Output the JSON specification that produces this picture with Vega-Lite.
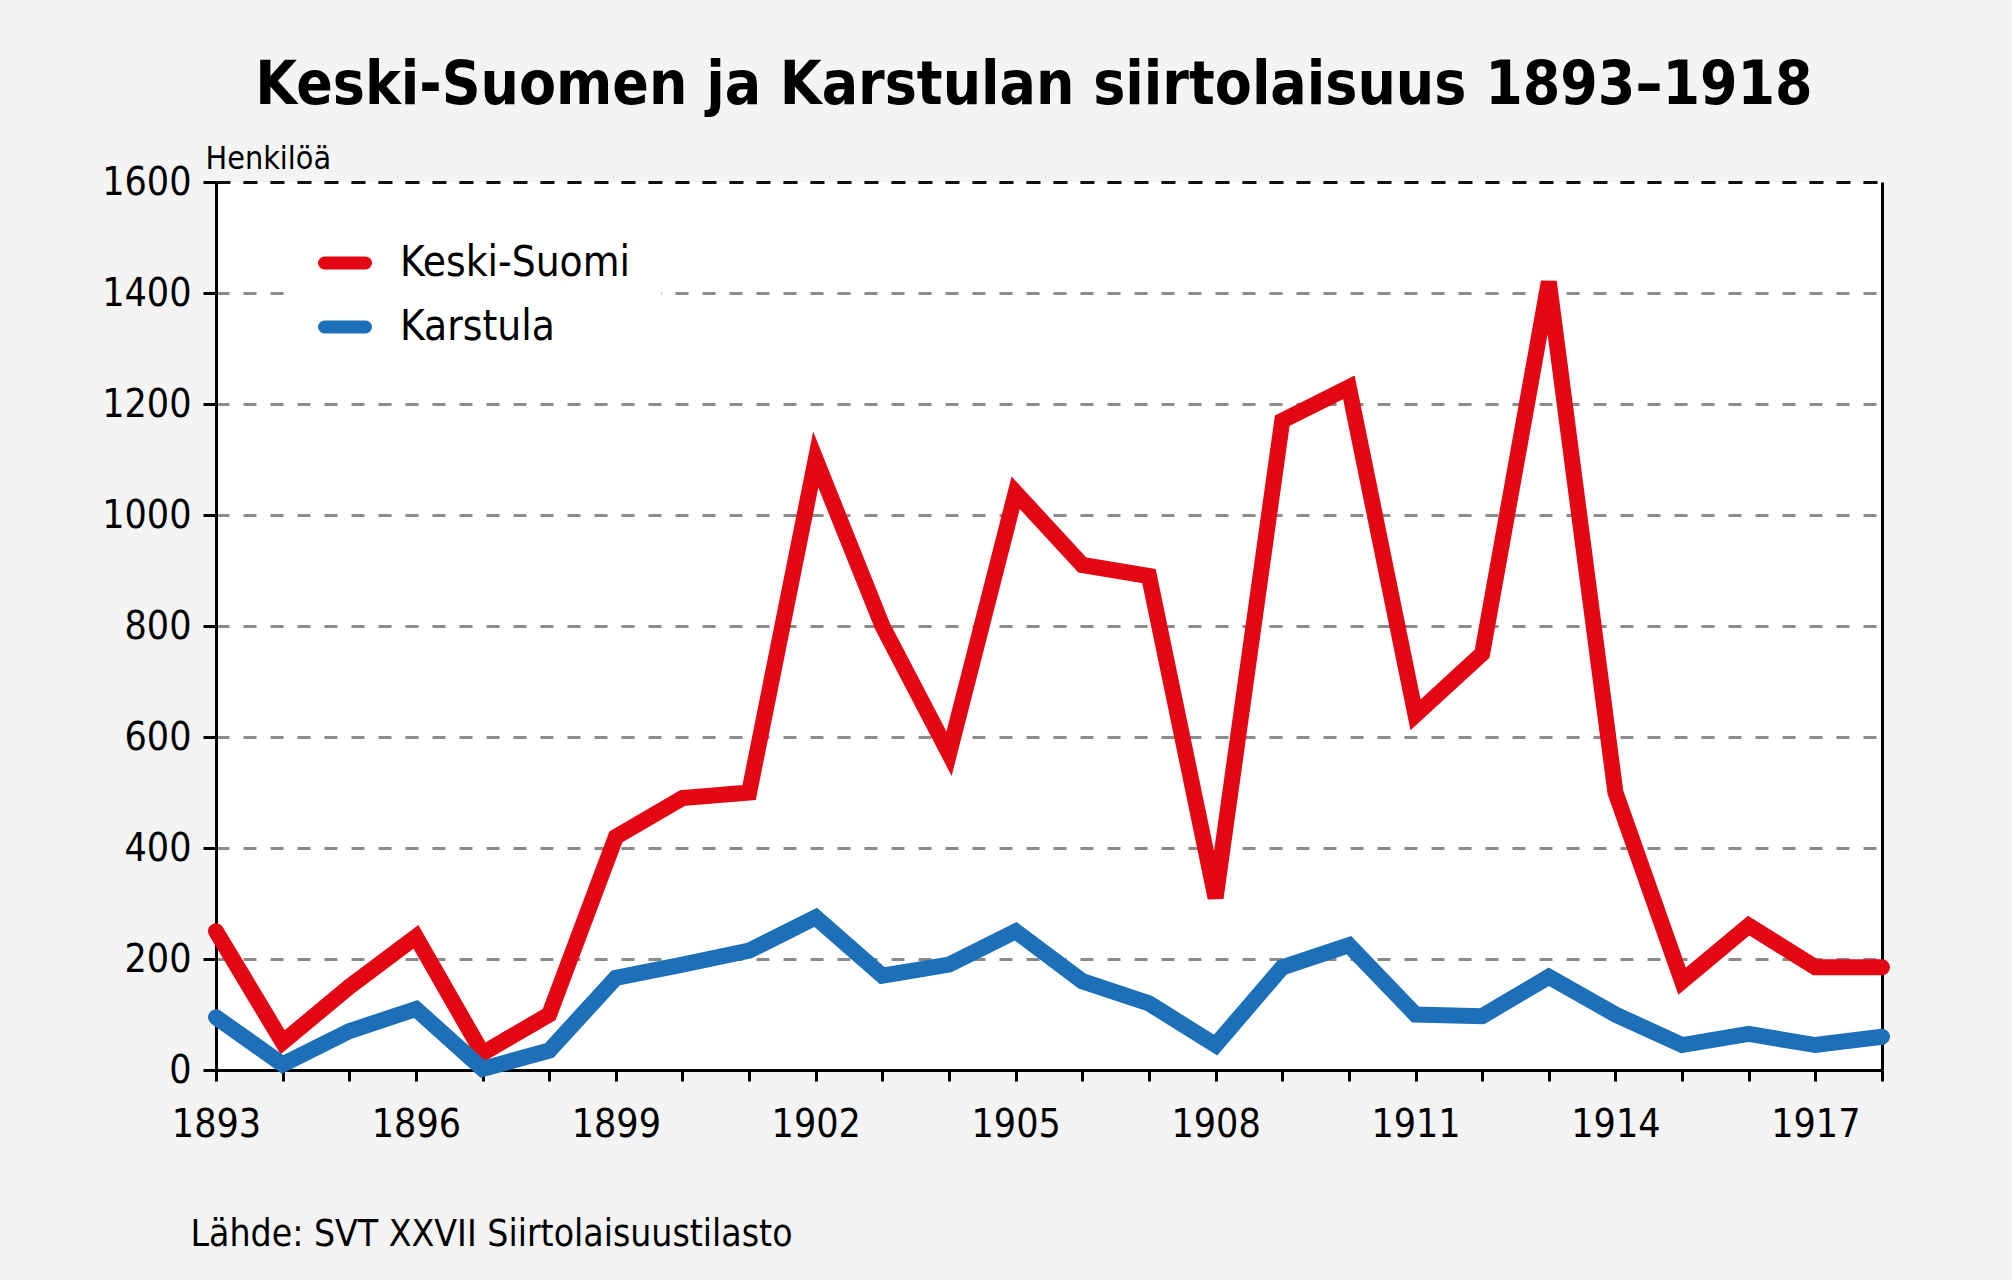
{
  "$schema": "https://vega.github.io/schema/vega-lite/v6.json",
  "width": 1666,
  "height": 888,
  "autosize": {"type": "none"},
  "padding": {"left": 216, "top": 182, "right": 130, "bottom": 210},
  "background": "#f4f4f4",
  "title": {
    "text": "Keski-Suomen ja Karstulan siirtolaisuus 1893–1918",
    "fontSize": 60,
    "font": "DejaVu Sans Condensed, DejaVu Sans, sans-serif",
    "fontWeight": "bold",
    "color": "#000000",
    "anchor": "middle",
    "frame": "group",
    "baseline": "alphabetic",
    "offset": -22,
    "dx": -15
  },
  "config": {
    "view": {"fill": "white", "stroke": null},
    "font": "DejaVu Sans Condensed, DejaVu Sans, sans-serif"
  },
  "data": {
    "values": [
      {"year": 1893, "series": "Keski-Suomi", "value": 250},
      {"year": 1894, "series": "Keski-Suomi", "value": 50},
      {"year": 1895, "series": "Keski-Suomi", "value": 150},
      {"year": 1896, "series": "Keski-Suomi", "value": 240},
      {"year": 1897, "series": "Keski-Suomi", "value": 30},
      {"year": 1898, "series": "Keski-Suomi", "value": 100},
      {"year": 1899, "series": "Keski-Suomi", "value": 420},
      {"year": 1900, "series": "Keski-Suomi", "value": 490},
      {"year": 1901, "series": "Keski-Suomi", "value": 500},
      {"year": 1902, "series": "Keski-Suomi", "value": 1100},
      {"year": 1903, "series": "Keski-Suomi", "value": 800},
      {"year": 1904, "series": "Keski-Suomi", "value": 570},
      {"year": 1905, "series": "Keski-Suomi", "value": 1040},
      {"year": 1906, "series": "Keski-Suomi", "value": 910},
      {"year": 1907, "series": "Keski-Suomi", "value": 890},
      {"year": 1908, "series": "Keski-Suomi", "value": 310},
      {"year": 1909, "series": "Keski-Suomi", "value": 1170},
      {"year": 1910, "series": "Keski-Suomi", "value": 1230},
      {"year": 1911, "series": "Keski-Suomi", "value": 640},
      {"year": 1912, "series": "Keski-Suomi", "value": 750},
      {"year": 1913, "series": "Keski-Suomi", "value": 1420},
      {"year": 1914, "series": "Keski-Suomi", "value": 500},
      {"year": 1915, "series": "Keski-Suomi", "value": 160},
      {"year": 1916, "series": "Keski-Suomi", "value": 260},
      {"year": 1917, "series": "Keski-Suomi", "value": 185},
      {"year": 1918, "series": "Keski-Suomi", "value": 185},
      {"year": 1893, "series": "Karstula", "value": 95},
      {"year": 1894, "series": "Karstula", "value": 10},
      {"year": 1895, "series": "Karstula", "value": 70},
      {"year": 1896, "series": "Karstula", "value": 110},
      {"year": 1897, "series": "Karstula", "value": 2},
      {"year": 1898, "series": "Karstula", "value": 35},
      {"year": 1899, "series": "Karstula", "value": 166},
      {"year": 1900, "series": "Karstula", "value": 190},
      {"year": 1901, "series": "Karstula", "value": 215},
      {"year": 1902, "series": "Karstula", "value": 275},
      {"year": 1903, "series": "Karstula", "value": 170},
      {"year": 1904, "series": "Karstula", "value": 190},
      {"year": 1905, "series": "Karstula", "value": 250},
      {"year": 1906, "series": "Karstula", "value": 160},
      {"year": 1907, "series": "Karstula", "value": 120},
      {"year": 1908, "series": "Karstula", "value": 45},
      {"year": 1909, "series": "Karstula", "value": 185},
      {"year": 1910, "series": "Karstula", "value": 225},
      {"year": 1911, "series": "Karstula", "value": 100},
      {"year": 1912, "series": "Karstula", "value": 97},
      {"year": 1913, "series": "Karstula", "value": 168},
      {"year": 1914, "series": "Karstula", "value": 100},
      {"year": 1915, "series": "Karstula", "value": 45},
      {"year": 1916, "series": "Karstula", "value": 65},
      {"year": 1917, "series": "Karstula", "value": 45},
      {"year": 1918, "series": "Karstula", "value": 60}
    ]
  },
  "layer": [
    {
      "mark": {"type": "line", "strokeWidth": 16, "strokeCap": "round", "strokeJoin": "miter"},
      "encoding": {
        "x": {
          "field": "year",
          "type": "quantitative",
          "scale": {"domain": [1893, 1918], "nice": false, "zero": false},
          "axis": {
            "values": [1893,1894,1895,1896,1897,1898,1899,1900,1901,1902,1903,1904,1905,1906,1907,1908,1909,1910,1911,1912,1913,1914,1915,1916,1917,1918],
            "labelExpr": "(datum.value - 1893) % 3 == 0 ? datum.value : ''",
            "format": "d",
            "grid": false,
            "labelOverlap": false,
            "labelFlush": false,
            "domainColor": "#000000",
            "domainWidth": 3,
            "tickColor": "#000000",
            "tickWidth": 3,
            "tickSize": 11,
            "labelFontSize": 39,
            "labelColor": "#000000",
            "labelPadding": 24,
            "title": "Lähde: SVT XXVII Siirtolaisuustilasto",
            "titleFontSize": 37,
            "titleFontWeight": "normal",
            "titleColor": "#000000",
            "titleAnchor": "start",
            "titleAlign": "left",
            "titleBaseline": "alphabetic",
            "titleX": -26,
            "titleY": 175
          }
        },
        "y": {
          "field": "value",
          "type": "quantitative",
          "scale": {"domain": [0, 1600], "nice": false},
          "axis": {
            "values": [0, 200, 400, 600, 800, 1000, 1200, 1400, 1600],
            "format": "d",
            "grid": true,
            "gridColor": "#8c8c8c",
            "gridDash": [13, 14],
            "gridWidth": 3,
            "labelFlush": false,
            "domainColor": "#000000",
            "domainWidth": 3,
            "tickColor": "#000000",
            "tickWidth": 3,
            "tickSize": 13,
            "labelFontSize": 39,
            "labelColor": "#000000",
            "labelPadding": 12,
            "title": "Henkilöä",
            "titleAngle": 0,
            "titleAlign": "left",
            "titleBaseline": "alphabetic",
            "titleX": -11,
            "titleY": -14,
            "titleFontSize": 32,
            "titleFontWeight": "normal",
            "titleColor": "#000000"
          }
        },
        "color": {
          "field": "series",
          "type": "nominal",
          "scale": {"domain": ["Keski-Suomi", "Karstula"], "range": ["#e30613", "#1d70b7"]},
          "legend": {
            "title": null,
            "orient": "none",
            "legendX": 72,
            "legendY": 24,
            "fillColor": "white",
            "padding": 30,
            "symbolType": "stroke",
            "symbolStrokeWidth": 13,
            "symbolSize": 1681,
            "labelFontSize": 42,
            "labelLimit": 500,
            "labelColor": "#000000",
            "labelOffset": 28,
            "rowPadding": 11,
            "encode": {"symbols": {"update": {"strokeCap": {"value": "round"}}}}
          }
        }
      }
    },
    {
      "mark": {"type": "point", "opacity": 0},
      "encoding": {
        "x": {
          "field": "year",
          "type": "quantitative",
          "scale": {"domain": [1893, 1918], "nice": false, "zero": false},
          "axis": {"orient": "top", "labels": false, "ticks": false, "grid": false, "title": null, "domainColor": "#111111", "domainWidth": 3, "domainDash": [14, 13]}
        },
        "y": {
          "field": "value",
          "type": "quantitative",
          "scale": {"domain": [0, 1600], "nice": false},
          "axis": {"orient": "right", "labels": false, "ticks": false, "grid": false, "title": null, "domainColor": "#000000", "domainWidth": 3}
        }
      }
    }
  ],
  "resolve": {"axis": {"x": "independent", "y": "independent"}}
}
